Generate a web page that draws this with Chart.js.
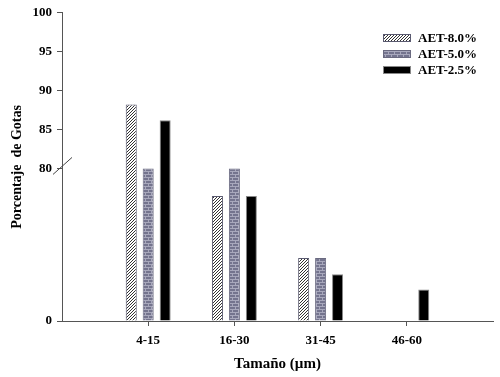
<!DOCTYPE html>
<html><head><meta charset="utf-8">
<script src="https://cdn.jsdelivr.net/npm/chart.js@4/dist/chart.umd.min.js"></script>
<style>html,body{margin:0;padding:0;background:#fff}#wrap{width:500px;height:377px}</style>
</head><body><div id="wrap"><canvas id="c" width="500" height="377"></canvas></div>
<script>
const categories = ['4-15', '16-30', '31-45', '46-60'];
const seriesNames = ['AET-8.0%', 'AET-5.0%', 'AET-2.5%'];
const aet80 = [88.2, 65.5, 33, 0];
const aet50 = [80, 80, 33, 0];
const aet25 = [86.2, 65.5, 24.5, 16.5];
const yTickValues = [0, 80, 85, 90, 95, 100];

// broken axis: lower 0-80 compressed, upper 80-100 expanded
const BREAK = 80, K = 4.08;
const T = v => v <= BREAK ? v : BREAK + (v - BREAK) * K;

const labels = [''].concat(categories, ['']);
const pad = arr => [null].concat(arr.map(v => v > 0 ? T(v) : null), [null]);

function hatchPattern() {
  const c = document.createElement('canvas'); c.width = 3; c.height = 3;
  const g = c.getContext('2d');
  g.fillStyle = '#fff'; g.fillRect(0, 0, 3, 3);
  g.fillStyle = '#333';
  g.fillRect(2, 0, 1, 1); g.fillRect(1, 1, 1, 1); g.fillRect(0, 2, 1, 1);
  return document.getElementById('c').getContext('2d').createPattern(c, 'repeat');
}
function brickPattern() {
  const c = document.createElement('canvas'); c.width = 6; c.height = 6;
  const g = c.getContext('2d');
  g.fillStyle = '#74748e'; g.fillRect(0, 0, 6, 6);
  g.fillStyle = '#a8a8bc';
  g.fillRect(0, 0, 6, 1); g.fillRect(0, 3, 6, 1);
  g.fillRect(1, 1, 1, 2); g.fillRect(4, 4, 1, 2);
  return document.getElementById('c').getContext('2d').createPattern(c, 'repeat');
}
const fills = [hatchPattern(), brickPattern(), '#000'];
const borders = ['#5a5a70', '#6a6a80', '#888'];
const seriesData = [aet80, aet50, aet25];

const serif = '"Liberation Serif", "Times New Roman", serif';

const extras = {
  id: 'extras',
  afterDraw(chart) {
    const ctx = chart.ctx, y = chart.scales.y, x = chart.scales.x;
    const py = y.getPixelForValue(BREAK);
    ctx.save();
    ctx.strokeStyle = '#444'; ctx.lineWidth = 1;
    ctx.beginPath(); ctx.moveTo(x.left - 9, py + 6); ctx.lineTo(x.left + 10, py - 11); ctx.stroke();
    // legend
    const lx = 383, ly = [34, 50, 66];
    ctx.font = 'bold 13px ' + serif;
    ctx.textBaseline = 'middle';
    chart.data.datasets.forEach((ds, i) => {
      ctx.fillStyle = ds.backgroundColor;
      ctx.fillRect(lx, ly[i], 28, 8);
      ctx.strokeStyle = ds.borderColor;
      ctx.strokeRect(lx + 0.5, ly[i] + 0.5, 27, 7);
      ctx.fillStyle = '#000';
      ctx.fillText(ds.label, lx + 35, ly[i] + 4.5);
    });
    ctx.restore();
  }
};

new Chart(document.getElementById('c'), {
  type: 'bar',
  data: {
    labels: labels,
    datasets: seriesData.map((d, i) => ({
      label: seriesNames[i], data: pad(d),
      backgroundColor: fills[i], borderColor: borders[i], borderWidth: 1,
      categoryPercentage: 0.59, barPercentage: 0.65
    }))
  },
  options: {
    responsive: false, animation: false,
    layout: { padding: { top: 10, right: 3, left: 0, bottom: 0 } },
    plugins: { legend: { display: false }, tooltip: { enabled: false } },
    scales: {
      x: {
        offset: false,
        grid: { offset: false, drawOnChartArea: false, tickLength: 5,
          color: c => (c.index === 0 || c.index === labels.length - 1) ? 'rgba(0,0,0,0)' : '#555' },
        border: { color: '#555', width: 1 },
        ticks: { color: '#000', font: { family: serif, weight: 'bold', size: 13 }, padding: 7, maxRotation: 0, autoSkip: false },
        title: { display: true, text: 'Tamaño (µm)', color: '#000', font: { family: serif, weight: 'bold', size: 15 }, padding: { top: 11 } },
        afterFit: s => { s.height = 56; }
      },
      y: {
        min: 0, max: T(100),
        afterBuildTicks: s => { s.ticks = yTickValues.map(v => ({ value: T(v) })); },
        grid: { drawOnChartArea: false, tickLength: 5, color: '#555' },
        border: { color: '#555', width: 1 },
        ticks: { color: '#000', font: { family: serif, weight: 'bold', size: 13 }, padding: 5,
          callback: (v, i) => String(yTickValues[i]) },
        title: { display: true, text: 'Porcentaje  de Gotas', color: '#000', font: { family: serif, weight: 'bold', size: 14 }, padding: { top: 9, bottom: 0 } },
        afterFit: s => { s.width = 62; }
      }
    }
  },
  plugins: [extras]
});
</script></body></html>
